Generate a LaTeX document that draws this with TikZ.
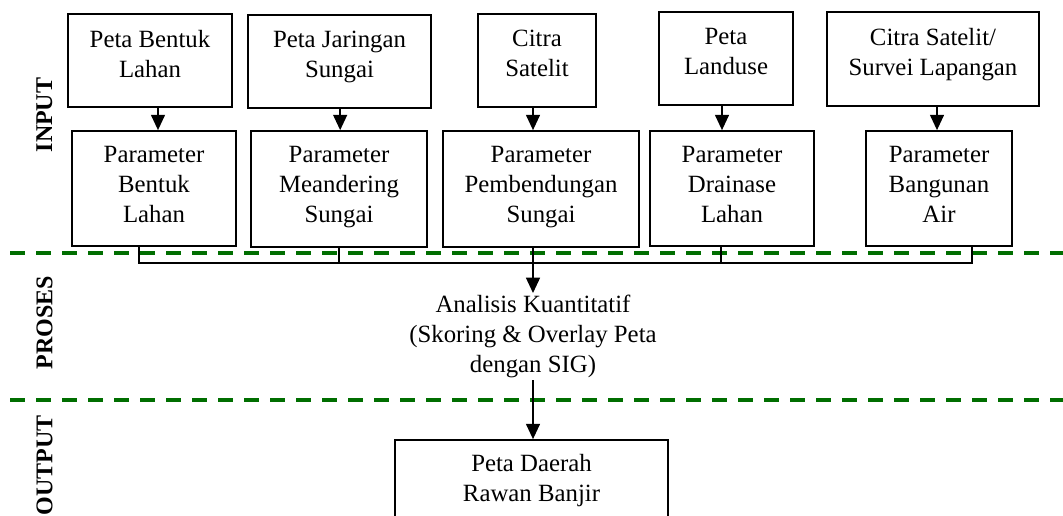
\documentclass[tikz,border=0pt]{standalone}
\usepackage{fontspec}
\setmainfont{Liberation Serif}
\usetikzlibrary{arrows.meta,calc}
\definecolor{dgreen}{RGB}{0,110,0}
\begin{document}
\begin{tikzpicture}[x=0.75pt,y=-0.75pt,
  font=\fontsize{18.6pt}{22.5pt}\selectfont,
  box/.style n args={3}{draw, line width=1.3pt, align=center, inner sep=0pt,
    minimum width=#1*0.75pt, minimum height=#2*0.75pt,
    execute at begin node={\rule{0pt}{15.75pt}},
    execute at end node={\rule[-#3pt]{0pt}{#3pt}}},
  arr/.style={line width=1.1pt, -{Triangle[length=11.5pt,width=10.5pt]}},
  brk/.style={line width=0.9pt},
  sep/.style={dgreen, line width=2.5pt, dash pattern=on 11.25pt off 8.25pt},
  lab/.style={font=\fontsize{18pt}{22pt}\selectfont\bfseries, rotate=90, inner sep=0pt},
  txt/.style={align=center, inner xsep=2pt, inner ysep=1.5pt}]
\useasboundingbox (0,0) rectangle (1063,516);

% separators
\draw[sep] (10,253) -- (1063,253);
\draw[sep] (10,400) -- (1063,400);

% section labels
\node[lab] (lin) at (44.5,115) {INPUT};
\node[lab] (lpr) at (44.5,322.5) {PROSES};
\node[lab, anchor=east] (lout) at (44.5,415) {OUTPUT};

% top row
\node[box={164}{93}{10.5}] (T1) at (150,60.5) {Peta Bentuk\\Lahan};
\node[box={183}{93}{10.5}] (T2) at (339.5,61.5) {Peta Jaringan\\Sungai};
\node[box={118}{93}{10.5}] (T3) at (537,60.5) {Citra\\Satelit};
\node[box={134}{93}{10.5}] (T4) at (726,58.5) {Peta\\Landuse};
\node[box={212}{94}{10.9}] (T5) at (933,59) {Citra Satelit/\\Survei Lapangan};

% parameter row
\node[box={164}{115}{6}] (P1) at (154,188.5) {Parameter\\Bentuk\\Lahan};
\node[box={176}{116}{6.4}] (P2) at (339,189) {Parameter\\Meandering\\Sungai};
\node[box={196}{116}{6.4}] (P3) at (541,189) {Parameter\\Pembendungan\\Sungai};
\node[box={164}{115}{6}] (P4) at (732,188.5) {Parameter\\Drainase\\Lahan};
\node[box={146}{115}{6}] (P5) at (939,188.5) {Parameter\\Bangunan\\Air};

% arrows top -> parameter
\draw[arr] ([xshift=6]T1.south) -- ([xshift=6]T1.south |- P1.north);
\draw[arr] ([xshift=0.5]T2.south) -- ([xshift=0.5]T2.south |- P2.north);
\draw[arr] ([xshift=-3]T3.south) -- ([xshift=-3]T3.south |- P3.north);
\draw[arr] ([xshift=-3]T4.south) -- ([xshift=-3]T4.south |- P4.north);
\draw[arr] ([xshift=3]T5.south) -- ([xshift=3]T5.south |- P5.north);

% process and output
\node[txt, anchor=north] (A) at (533,293) {Analisis Kuantitatif\\(Skoring \& Overlay Peta\\dengan SIG)};
\node[box={273}{82}{3.75}] (O) at (531.5,481) {Peta Daerah\\Rawan Banjir};

% bracket
\coordinate (b1) at (139,263);
\coordinate (b2) at (339,263);
\coordinate (b3) at (533,263);
\coordinate (b4) at (721,263);
\coordinate (b5) at (972,263);
\draw[brk] (P1.south -| b1) -- (b1) -- (b5) -- (P5.south -| b5);
\draw[brk] (P2.south -| b2) -- (b2);
\draw[brk] (P4.south -| b4) -- (b4);
\draw[brk] (P3.south -| b3) -- (b3);
\draw[arr] (b3) -- (A.north);
\draw[arr] (A.south) -- (A.south |- O.north);
\end{tikzpicture}
\end{document}
